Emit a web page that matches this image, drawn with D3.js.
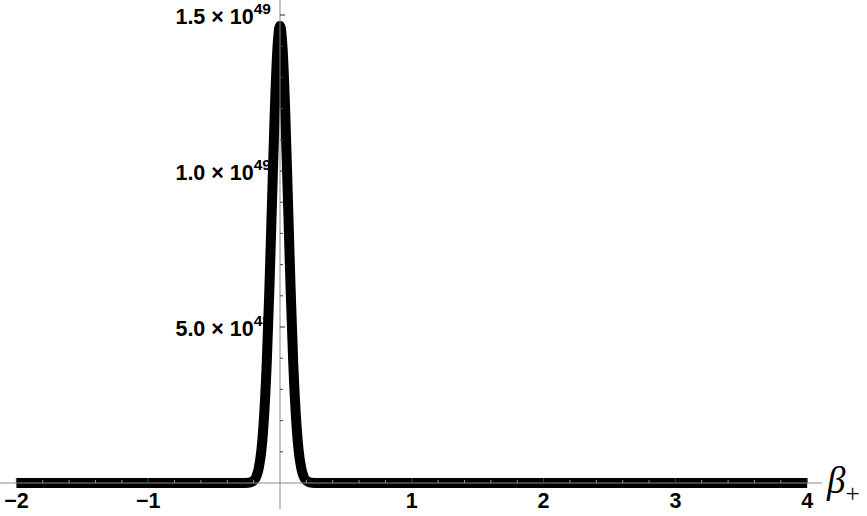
<!DOCTYPE html>
<html>
<head>
<meta charset="utf-8">
<script src="https://cdn.jsdelivr.net/npm/d3@7"></script>
<style>
  html, body { margin: 0; padding: 0; background: #fff; }
  svg { display: block; }
</style>
</head>
<body>
<svg id="chart" width="867" height="516"></svg>
<script>
// ---- data ----
const betaPlus = [-2, -1, -0.5, -0.3, -0.24, -0.2, -0.18, -0.16, -0.14, -0.12, -0.1, -0.08, -0.06, -0.04, -0.02, 0,
                  0.02, 0.04, 0.06, 0.08, 0.1, 0.12, 0.14, 0.16, 0.18, 0.2, 0.24, 0.3, 0.5, 1, 2, 3, 4];
const density = [0, 0, 0, 0, 0.0007e49, 0.0075e49, 0.02e49, 0.05e49, 0.11e49, 0.219e49, 0.39e49, 0.629e49, 0.91e49, 1.186e49, 1.39e49, 1.465e49,
                 1.39e49, 1.186e49, 0.91e49, 0.629e49, 0.39e49, 0.219e49, 0.11e49, 0.05e49, 0.02e49, 0.0075e49, 0.0007e49, 0, 0, 0, 0, 0, 0];
const xTicks = [-2, -1, 1, 2, 3, 4];
const xTickLabels = ["\u22122", "\u22121", "1", "2", "3", "4"];
const yTicks = [5e48, 1e49, 1.5e49];
const yTickMantissa = ["5.0", "1.0", "1.5"];
const yTickExponent = ["48", "49", "49"];
const xLabel = "\u03B2";
const xLabelSub = "+";

// ---- drawing ----
const svg = d3.select("#chart");
const x = d3.scaleLinear().domain([-2, 4]).range([16.4, 807.2]);
const y = d3.scaleLinear().domain([0, 1.5e49]).range([483, 15]);

const font = "'Liberation Sans', Arial, sans-serif";

// y tick labels (drawn first; curve covers them)
const yl = svg.append("g");
yTicks.forEach((t, i) => {
  const txt = yl.append("text")
    .attr("x", 271)
    .attr("y", y(t) + 9)
    .attr("text-anchor", "end")
    .attr("font-family", font)
    .attr("font-weight", "bold")
    .attr("font-size", 21.5)
    .attr("fill", "#000");
  txt.append("tspan").text(yTickMantissa[i] + " \u00D7 10");
  txt.append("tspan").attr("dy", -10).attr("font-size", 15.5).text(yTickExponent[i]);
});

// x tick labels
svg.append("g").selectAll("text").data(xTicks).join("text")
  .attr("x", d => x(d))
  .attr("y", 508)
  .attr("text-anchor", "middle")
  .attr("font-family", font)
  .attr("font-weight", "bold")
  .attr("font-size", 21.5)
  .attr("fill", "#000")
  .text((d, i) => xTickLabels[i]);

// curve
const line = d3.line()
  .x((d, i) => x(betaPlus[i]))
  .y(d => y(d))
  .curve(d3.curveMonotoneX);
svg.append("path")
  .datum(density)
  .attr("d", line)
  .attr("fill", "none")
  .attr("stroke", "#000")
  .attr("stroke-width", 10)
  .attr("stroke-linejoin", "round");

// axes on top
const axisColor = "#8a8a8a";
svg.append("line")
  .attr("x1", 0).attr("x2", 822)
  .attr("y1", y(0)).attr("y2", y(0))
  .attr("stroke", axisColor).attr("stroke-width", 1);
svg.append("line")
  .attr("x1", x(0)).attr("x2", x(0))
  .attr("y1", 0).attr("y2", 509)
  .attr("stroke", axisColor).attr("stroke-width", 1);

// y ticks (major + minor, pointing right)
const yMinor = d3.range(1, 15).map(k => k * 1e48).filter(v => !yTicks.some(t => Math.abs(t - v) < 1e40));
svg.append("g").selectAll("line.ymaj").data(yTicks).join("line")
  .attr("x1", x(0)).attr("x2", x(0) + 5)
  .attr("y1", d => y(d)).attr("y2", d => y(d))
  .attr("stroke", "#222").attr("stroke-width", 1);
svg.append("g").selectAll("line.ymin").data(yMinor).join("line")
  .attr("x1", x(0)).attr("x2", x(0) + 3)
  .attr("y1", d => y(d)).attr("y2", d => y(d))
  .attr("stroke", "#444").attr("stroke-width", 1);

// x ticks (major + minor, pointing up)
const xMinor = d3.range(-10, 21).map(k => k * 0.2).filter(v => Math.abs(v - Math.round(v)) > 1e-6);
svg.append("g").selectAll("line.xmaj").data(xTicks).join("line")
  .attr("x1", d => x(d)).attr("x2", d => x(d))
  .attr("y1", y(0)).attr("y2", y(0) - 5)
  .attr("stroke", "#444").attr("stroke-width", 1);
svg.append("g").selectAll("line.xmin").data(xMinor).join("line")
  .attr("x1", d => x(d)).attr("x2", d => x(d))
  .attr("y1", y(0)).attr("y2", y(0) - 3)
  .attr("stroke", "#999").attr("stroke-width", 1);

// axis label
const lab = svg.append("text")
  .attr("x", 827)
  .attr("y", 493)
  .attr("font-family", "'Liberation Serif', 'Times New Roman', serif")
  .attr("font-style", "italic")
  .attr("font-size", 37)
  .attr("fill", "#000");
lab.append("tspan").text(xLabel);
lab.append("tspan").attr("dy", 9).attr("font-size", 25).attr("font-style", "normal").text(xLabelSub);
</script>
</body>
</html>
